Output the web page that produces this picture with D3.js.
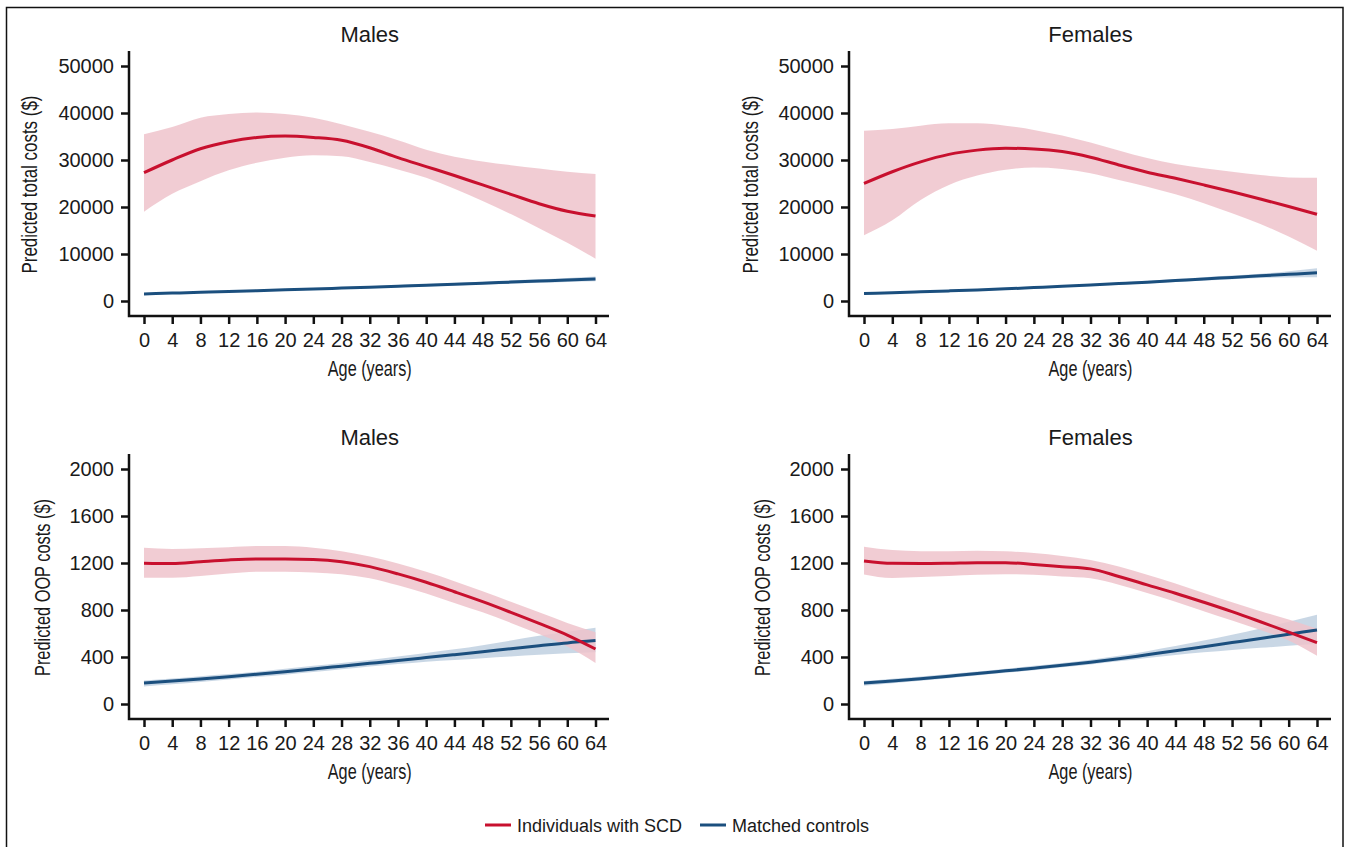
<!DOCTYPE html>
<html>
<head>
<meta charset="utf-8">
<script src="https://cdn.jsdelivr.net/npm/d3@7"></script>
<style>
  body { margin: 0; background: #fff; }
  text { font-family: "Liberation Sans", Arial, Helvetica, sans-serif; fill: #1a1a1a; }
</style>
</head>
<body>
<div id="chart"></div>
<script>
"use strict";

const width = 1346,
      height = 847;

// ages on the x axis
const ages = [0, 4, 8, 12, 16, 20, 24, 28, 32, 36, 40, 44, 48, 52, 56, 60, 64];

// total costs, males
const mTotScd   = [27300, 30000, 32400, 33900, 34800, 35100, 34800, 34200, 32600, 30500, 28600, 26700, 24700, 22700, 20700, 19100, 18100];
const mTotScdHi = [35500, 37000, 39000, 39800, 40100, 39800, 39000, 37600, 36000, 34200, 32200, 30700, 29700, 28900, 28200, 27500, 27000];
const mTotScdLo = [19000, 22800, 25500, 27800, 29400, 30500, 31000, 30800, 29600, 28000, 26200, 23900, 21300, 18500, 15500, 12400, 9000];
const mTotCtl   = [1500, 1680, 1850, 2020, 2200, 2370, 2550, 2750, 2950, 3150, 3350, 3570, 3800, 4020, 4250, 4480, 4700];
const mTotCtlHi = [1650, 1830, 2000, 2170, 2350, 2530, 2720, 2930, 3150, 3370, 3600, 3850, 4100, 4370, 4630, 4900, 5200];
const mTotCtlLo = [1350, 1530, 1700, 1870, 2050, 2210, 2380, 2570, 2750, 2930, 3100, 3290, 3500, 3680, 3870, 4050, 4200];

// total costs, females
const fTotScd   = [25000, 27500, 29600, 31200, 32100, 32500, 32350, 31800, 30600, 28950, 27400, 26100, 24700, 23250, 21700, 20100, 18450];
const fTotScdHi = [36200, 36600, 37300, 37800, 37800, 37300, 36400, 35200, 33700, 32000, 30400, 29150, 28250, 27500, 26800, 26300, 26250];
const fTotScdLo = [14000, 17200, 21500, 24700, 26700, 27900, 28400, 28100, 27200, 25750, 24300, 22700, 20800, 18650, 16400, 13700, 10700];
const fTotCtl   = [1600, 1770, 1950, 2150, 2350, 2590, 2850, 3120, 3400, 3700, 4000, 4350, 4700, 5020, 5350, 5680, 6000];
const fTotCtlHi = [1750, 1920, 2100, 2300, 2510, 2760, 3030, 3320, 3620, 3950, 4290, 4670, 5060, 5420, 5800, 6350, 6950];
const fTotCtlLo = [1450, 1620, 1800, 2000, 2190, 2420, 2670, 2920, 3180, 3450, 3710, 4030, 4340, 4620, 4900, 5000, 5050];

// out-of-pocket costs, males
const mOopScd   = [1197, 1195, 1211, 1226, 1234, 1234, 1230, 1211, 1169, 1107, 1036, 955, 871, 780, 686, 587, 468];
const mOopScdHi = [1330, 1320, 1325, 1335, 1345, 1345, 1330, 1300, 1255, 1195, 1125, 1045, 960, 870, 780, 690, 610];
const mOopScdLo = [1075, 1075, 1090, 1110, 1125, 1125, 1120, 1105, 1070, 1010, 940, 860, 780, 690, 595, 490, 350];
const mOopCtl   = [178, 195, 213, 232, 253, 275, 298, 322, 346, 370, 395, 420, 445, 470, 495, 520, 540];
const mOopCtlHi = [200, 217, 236, 255, 275, 300, 325, 350, 375, 405, 435, 465, 500, 540, 580, 615, 650];
const mOopCtlLo = [150, 168, 188, 208, 230, 250, 272, 296, 320, 340, 360, 375, 390, 405, 420, 432, 440];

// out-of-pocket costs, females
const fOopScd   = [1217, 1197, 1195, 1198, 1203, 1203, 1188, 1169, 1150, 1085, 1014, 943, 866, 786, 700, 612, 522];
const fOopScdHi = [1339, 1310, 1300, 1300, 1305, 1300, 1285, 1260, 1225, 1170, 1100, 1025, 945, 865, 790, 720, 640];
const fOopScdLo = [1103, 1072, 1080, 1090, 1100, 1105, 1100, 1085, 1070, 1015, 945, 870, 790, 710, 630, 540, 410];
const fOopCtl   = [178, 195, 215, 237, 259, 282, 305, 329, 355, 385, 419, 453, 488, 523, 558, 594, 630];
const fOopCtlHi = [195, 214, 234, 255, 276, 300, 325, 350, 377, 410, 450, 493, 540, 590, 643, 700, 760];
const fOopCtlLo = [155, 176, 198, 220, 243, 265, 288, 312, 337, 364, 392, 418, 440, 460, 478, 495, 510];

const totTicks = [0, 10000, 20000, 30000, 40000, 50000];
const oopTicks = [0, 400, 800, 1200, 1600, 2000];

const legendLabels = ["Individuals with SCD", "Matched controls"];
const red = "#c8102e",
      blue = "#1b4f7e",
      redBand = "#efc3cb",
      blueBand = "#c3d3e2";

const svg = d3.select("#chart")
  .append("svg")
  .attr("width", width)
  .attr("height", height);

// outer frame
svg.append("rect")
  .attr("x", 6.5)
  .attr("y", 7.5)
  .attr("width", 1336.5)
  .attr("height", 860)
  .attr("fill", "none")
  .attr("stroke", "#111")
  .attr("stroke-width", 1.5);

const panels = [
  { title: "Males", ytitle: "Predicted total costs ($)", left: 129, x0: 144, x1: 595.5, xEnd: 609, top: 51, yZero: 301, yTop: 66, bottom: 316, ticks: totTicks, titleX: 37,
    scd: mTotScd, scdHi: mTotScdHi, scdLo: mTotScdLo, ctl: mTotCtl, ctlHi: mTotCtlHi, ctlLo: mTotCtlLo },
  { title: "Females", ytitle: "Predicted total costs ($)", left: 849, x0: 864, x1: 1317, xEnd: 1331, top: 51, yZero: 301, yTop: 66, bottom: 316, ticks: totTicks, titleX: 758,
    scd: fTotScd, scdHi: fTotScdHi, scdLo: fTotScdLo, ctl: fTotCtl, ctlHi: fTotCtlHi, ctlLo: fTotCtlLo },
  { title: "Males", ytitle: "Predicted OOP costs ($)", left: 129, x0: 144, x1: 595.5, xEnd: 609, top: 454, yZero: 704, yTop: 469, bottom: 719, ticks: oopTicks, titleX: 50,
    scd: mOopScd, scdHi: mOopScdHi, scdLo: mOopScdLo, ctl: mOopCtl, ctlHi: mOopCtlHi, ctlLo: mOopCtlLo },
  { title: "Females", ytitle: "Predicted OOP costs ($)", left: 849, x0: 864, x1: 1317, xEnd: 1331, top: 454, yZero: 704, yTop: 469, bottom: 719, ticks: oopTicks, titleX: 770,
    scd: fOopScd, scdHi: fOopScdHi, scdLo: fOopScdLo, ctl: fOopCtl, ctlHi: fOopCtlHi, ctlLo: fOopCtlLo }
];

panels.forEach(function(p) {
  const g = svg.append("g");

  const x = d3.scaleLinear()
    .domain([0, 64])
    .range([p.x0, p.x1]);

  const y = d3.scaleLinear()
    .domain([0, p.ticks[p.ticks.length - 1]])
    .range([p.yZero, p.yTop]);

  const area = function(lo, hi) {
    return d3.area()
      .x((d, i) => x(ages[i]))
      .y0((d, i) => y(lo[i]))
      .y1((d, i) => y(hi[i]))
      .curve(d3.curveMonotoneX)(ages);
  };

  const line = d3.line()
    .x((d, i) => x(ages[i]))
    .y(d => y(d))
    .curve(d3.curveMonotoneX);

  // confidence bands, then lines
  g.append("path")
    .attr("d", area(p.ctlLo, p.ctlHi))
    .attr("fill", blueBand)
    .attr("opacity", 0.9);
  g.append("path")
    .attr("d", area(p.scdLo, p.scdHi))
    .attr("fill", redBand)
    .attr("opacity", 0.85);
  g.append("path")
    .attr("d", line(p.ctl))
    .attr("fill", "none")
    .attr("stroke", blue)
    .attr("stroke-width", 3);
  g.append("path")
    .attr("d", line(p.scd))
    .attr("fill", "none")
    .attr("stroke", red)
    .attr("stroke-width", 3);

  // axes
  const yAxis = g.append("g")
    .attr("transform", `translate(${p.left},0)`)
    .call(d3.axisLeft(y).tickValues(p.ticks).tickSize(8).tickPadding(7).tickFormat(d3.format("d")));
  yAxis.select(".domain").remove();

  const xAxis = g.append("g")
    .attr("transform", `translate(0,${p.bottom})`)
    .call(d3.axisBottom(x).tickValues(ages).tickSize(8).tickPadding(9));
  xAxis.select(".domain").remove();

  g.selectAll(".tick line")
    .attr("stroke", "#111")
    .attr("stroke-width", 2.5);
  g.selectAll(".tick text")
    .attr("fill", "#1a1a1a")
    .style("font-size", "20px")
    .style("font-family", "'Liberation Sans', Arial, sans-serif");

  g.append("path")
    .attr("d", `M${p.left},${p.top}V${p.bottom}H${p.xEnd}`)
    .attr("fill", "none")
    .attr("stroke", "#111")
    .attr("stroke-width", 2.5);

  // titles
  const midX = (p.x0 + p.x1) / 2;
  g.append("text")
    .attr("x", midX)
    .attr("y", p.top - 9)
    .attr("text-anchor", "middle")
    .style("font-size", "22px")
    .text(p.title);

  g.append("text")
    .attr("x", midX)
    .attr("y", p.bottom + 60)
    .attr("text-anchor", "middle")
    .attr("textLength", 84)
    .attr("lengthAdjust", "spacingAndGlyphs")
    .style("font-size", "22px")
    .text("Age (years)");

  const midY = (p.top + p.bottom) / 2 + 1;
  g.append("text")
    .attr("transform", `translate(${p.titleX},${midY}) rotate(-90)`)
    .attr("text-anchor", "middle")
    .attr("textLength", p.ytitle.length > 24 ? 178 : 177)
    .attr("lengthAdjust", "spacingAndGlyphs")
    .style("font-size", "22px")
    .text(p.ytitle);
});

// legend
const legend = svg.append("g");
const legendX = [485, 700];
const legendColors = [red, blue];
legendLabels.forEach(function(label, i) {
  legend.append("line")
    .attr("x1", legendX[i])
    .attr("x2", legendX[i] + 26)
    .attr("y1", 825)
    .attr("y2", 825)
    .attr("stroke", legendColors[i])
    .attr("stroke-width", 3);
  legend.append("text")
    .attr("x", legendX[i] + 32)
    .attr("y", 832)
    .style("font-size", "18px")
    .text(label);
});
</script>
</body>
</html>
